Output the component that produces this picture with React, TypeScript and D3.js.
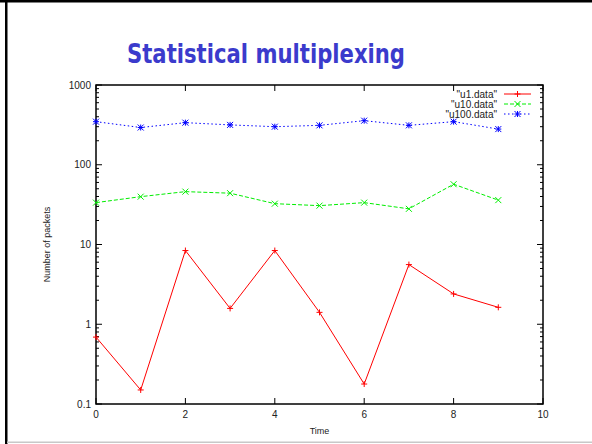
import { useEffect, useRef } from "react";
import * as d3 from "d3";

const times = [0, 1, 2, 3, 4, 5, 6, 7, 8, 9];
const u1 = [0.69, 0.15, 8.4, 1.58, 8.4, 1.41, 0.178, 5.6, 2.4, 1.63];
const u10 = [33.5, 39.8, 46, 44, 32.5, 30.7, 33.5, 28, 57, 36];
const u100 = [347, 293, 337, 316, 300, 312, 357, 312, 347, 280];
const xTicks = [0, 2, 4, 6, 8, 10];
const yTicks = [0.1, 1, 10, 100, 1000];
const yTickLabels = ["0.1", "1", "10", "100", "1000"];

const series = [
  { name: '"u1.data"', values: u1, color: "#ff0000", dash: "", marker: "plus" },
  { name: '"u10.data"', values: u10, color: "#00ee00", dash: "4,2", marker: "cross" },
  { name: '"u100.data"', values: u100, color: "#0000ff", dash: "1.5,2.5", marker: "star" },
];

export default function App() {
  const ref = useRef<SVGSVGElement>(null);

  useEffect(() => {
    const svg = d3.select(ref.current);
    svg.selectAll("*").remove();

    const W = 592;
    const H = 444;
    const left = 96, right = 543, top = 85, bottom = 404;

    const x = d3.scaleLinear().domain([0, 10]).range([left, right]);
    const y = d3.scaleLog().domain([0.1, 1000]).range([bottom, top]);

    // slide frame
    svg.append("rect").attr("width", W).attr("height", H).attr("fill", "#fff");
    svg.append("rect").attr("x", 0).attr("y", 0).attr("width", W).attr("height", 2.5).attr("fill", "#000");
    svg.append("rect").attr("x", 5).attr("y", 0).attr("width", 2.5).attr("height", H).attr("fill", "#000");
    svg.append("rect").attr("x", 7).attr("y", 441.5).attr("width", W - 7).attr("height", 1.5).attr("fill", "#c8c8c8");

    // title
    svg
      .append("text")
      .attr("x", 266)
      .attr("y", 63)
      .attr("text-anchor", "middle")
      .attr("font-family", "DejaVu Sans")
      .attr("font-weight", "bold")
      .attr("font-size", 26)
      .attr("fill", "#3b3bcc")
      .attr("textLength", 278)
      .attr("lengthAdjust", "spacingAndGlyphs")
      .text("Statistical multiplexing");

    const g = svg.append("g").attr("font-family", "Liberation Sans, Arial, sans-serif").attr("font-size", 10);

    // y ticks (major + minor, mirrored)
    const minor: number[] = [];
    for (let e = -1; e < 3; e++) {
      for (let m = 2; m <= 9; m++) minor.push(m * Math.pow(10, e));
    }
    yTicks.forEach((v) => {
      g.append("line").attr("x1", left).attr("x2", left + 6).attr("y1", y(v)).attr("y2", y(v)).attr("stroke", "#000");
      g.append("line").attr("x1", right).attr("x2", right - 6).attr("y1", y(v)).attr("y2", y(v)).attr("stroke", "#000");
    });
    minor.forEach((v) => {
      g.append("line").attr("x1", left).attr("x2", left + 3).attr("y1", y(v)).attr("y2", y(v)).attr("stroke", "#000");
      g.append("line").attr("x1", right).attr("x2", right - 3).attr("y1", y(v)).attr("y2", y(v)).attr("stroke", "#000");
    });
    yTicks.forEach((v, i) => {
      g.append("text")
        .attr("x", left - 5)
        .attr("y", y(v) + 3.5)
        .attr("text-anchor", "end")
        .attr("fill", "#222")
        .text(yTickLabels[i]);
    });

    // x ticks (mirrored)
    xTicks.forEach((v) => {
      g.append("line").attr("x1", x(v)).attr("x2", x(v)).attr("y1", bottom).attr("y2", bottom - 6).attr("stroke", "#000");
      g.append("line").attr("x1", x(v)).attr("x2", x(v)).attr("y1", top).attr("y2", top + 6).attr("stroke", "#000");
      g.append("text")
        .attr("x", x(v))
        .attr("y", bottom + 14)
        .attr("text-anchor", "middle")
        .attr("fill", "#222")
        .text(String(v));
    });

    // border
    g.append("rect")
      .attr("x", left)
      .attr("y", top)
      .attr("width", right - left)
      .attr("height", bottom - top)
      .attr("fill", "none")
      .attr("stroke", "#000")
      .attr("stroke-width", 1.5);

    // axis labels
    g.append("text")
      .attr("x", (left + right) / 2)
      .attr("y", 434)
      .attr("text-anchor", "middle")
      .attr("font-size", 9)
      .attr("fill", "#222")
      .text("Time");
    g.append("text")
      .attr("transform", `translate(50,${(top + bottom) / 2}) rotate(-90)`)
      .attr("text-anchor", "middle")
      .attr("font-size", 9)
      .attr("fill", "#222")
      .text("Number of packets");

    const drawMarker = (sel: any, kind: string, cx: number, cy: number, color: string) => {
      const s = 3;
      const mk = sel.append("g").attr("stroke", color).attr("stroke-width", 1);
      if (kind === "plus" || kind === "star") {
        mk.append("line").attr("x1", cx - s).attr("x2", cx + s).attr("y1", cy).attr("y2", cy);
        mk.append("line").attr("x1", cx).attr("x2", cx).attr("y1", cy - s).attr("y2", cy + s);
      }
      if (kind === "cross" || kind === "star") {
        mk.append("line").attr("x1", cx - s).attr("x2", cx + s).attr("y1", cy - s).attr("y2", cy + s);
        mk.append("line").attr("x1", cx - s).attr("x2", cx + s).attr("y1", cy + s).attr("y2", cy - s);
      }
    };

    const line = d3
      .line<number>()
      .x((_, i) => x(times[i]))
      .y((d) => y(d));

    series.forEach((s, k) => {
      g.append("path")
        .attr("d", line(s.values))
        .attr("fill", "none")
        .attr("stroke", s.color)
        .attr("stroke-width", 1)
        .attr("stroke-dasharray", s.dash || null);
      s.values.forEach((v, i) => drawMarker(g, s.marker, x(times[i]), y(v), s.color));

      // legend
      const ly = 94 + k * 10;
      g.append("text")
        .attr("x", 497)
        .attr("y", ly + 3.5)
        .attr("text-anchor", "end")
        .attr("fill", "#222")
        .text(s.name);
      g.append("line")
        .attr("x1", 504)
        .attr("x2", 531)
        .attr("y1", ly)
        .attr("y2", ly)
        .attr("stroke", s.color)
        .attr("stroke-dasharray", s.dash || null);
      drawMarker(g, s.marker, 517.5, ly, s.color);
    });
  }, []);

  return (
    <>
      <style>{`body{margin:0}`}</style>
      <svg ref={ref} width={592} height={444} style={{ display: "block" }}></svg>
    </>
  );
}
